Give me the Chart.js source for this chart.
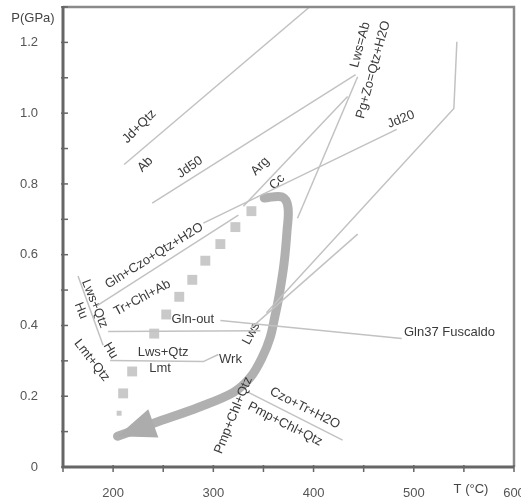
<!DOCTYPE html>
<html><head><meta charset="utf-8">
<script src="https://cdn.jsdelivr.net/npm/chart.js@4"></script>
<style>html,body{margin:0;padding:0;background:#fff}#wrap{width:521px;height:497px;position:relative}</style>
</head><body><div id="wrap"><canvas id="c"></canvas></div>
<script>
// ---- axis ranges / ticks ----
const tempMin = 150, tempMax = 600;
const presMin = 0, presMax = 1.3;
const xTickLabels = ['200', '300', '400', '500', '600'];
const yTickLabels = ['0', '0.2', '0.4', '0.6', '0.8', '1.0', '1.2'];

// ---- reaction lines (T in °C, P in GPa) ----
const jd100T = [211, 396],          jd100P = [0.855, 1.30];
const jd50T = [239, 442],           jd50P = [0.746, 1.109];
const jd20T = [290, 483],           jd20P = [0.689, 0.954];
const glnT = [184, 325],            glnP = [0.456, 0.712];
const argCcT = [330, 434],          argCcP = [0.737, 1.047];
const pgZoT = [384, 444],           pgZoP = [0.703, 1.103];
const lwsOutT = [353, 540, 543],    lwsOutP = [0.436, 1.013, 1.202];
const lws2T = [338, 444],           lws2P = [0.394, 0.658];
const glnOutT = [195, 347],         glnOutP = [0.383, 0.385];
const gln37T = [307, 488],          gln37P = [0.414, 0.363];
const lmtT = [197, 290, 305],       lmtP = [0.301, 0.298, 0.318];
const huT = [165, 190],             huP = [0.540, 0.344];
const czoTrT = [335, 429],          czoTrP = [0.211, 0.076];

// ---- prograde dotted path (squares) ----
const pathT = [338, 322, 307, 292, 279, 266, 253, 241, 219, 210, 206];
const pathP = [0.723, 0.678, 0.630, 0.583, 0.529, 0.481, 0.431, 0.377, 0.270, 0.208, 0.152];

// ---- retrograde arrow path ----
const arrowT = [350.8, 368.6, 374.5, 373.5, 370.5, 365.6, 361.6, 356.7, 348.8, 336.9, 320.1, 285.5, 245.9, 221.2, 204.4];
const arrowP = [0.760, 0.763, 0.734, 0.667, 0.574, 0.484, 0.428, 0.366, 0.310, 0.253, 0.211, 0.169, 0.129, 0.104, 0.087];

// ---- text labels: text, T, P, rotation(deg), align ----
const labelTexts = ['Jd+Qtz','Ab','Jd50','Arg','Cc','Jd20','Lws=Ab','Pg+Zo=Qtz+H2O','Gln+Czo+Qtz+H2O','Tr+Chl+Ab',
  'Lws+Qtz','Hu','Lmt+Qtz','Hu','Gln-out','Gln37 Fuscaldo','Lws+Qtz','Lmt','Wrk','Lws','Pmp+Chl+Qtz','Czo+Tr+H2O','Pmp+Chl+Qtz'];
const labelT = [226.2,232.1,276.6,346.8,363.6,487.2,446.7,459.6,241,229.1,181.6,167.8,178.7,197.5,279.6,490.2,249.9,246.9,317.1,337.9,320.1,391.3,371.5];
const labelP = [0.962,0.855,0.847,0.850,0.805,0.982,1.193,1.123,0.597,0.478,0.461,0.442,0.301,0.329,0.416,0.380,0.324,0.279,0.304,0.377,0.146,0.166,0.121];
const labelRot = [-45,-45,-35,-46,-46,-22,-75,-75,-32,-28,68,68,52,60,0,0,0,0,0,-62,-68,27,27];
const labelAlign = ['center','center','center','center','center','center','center','center','center','center',
  'center','center','center','center','center','left','center','center','center','center','center','center','center'];

const zip = (t, p) => t.map((v, i) => ({x: v, y: p[i]}));
const lineSets = [
  [jd100T, jd100P], [jd50T, jd50P], [jd20T, jd20P], [glnT, glnP], [argCcT, argCcP], [pgZoT, pgZoP],
  [lwsOutT, lwsOutP], [lws2T, lws2P], [glnOutT, glnOutP], [gln37T, gln37P], [lmtT, lmtP], [huT, huP], [czoTrT, czoTrP]
];
const datasets = lineSets.map(([t, p]) => ({
  data: zip(t, p), showLine: true, borderColor: '#c2c2c2', borderWidth: 1.5,
  pointRadius: 0, fill: false, tension: 0
}));
const LAST_LINE = datasets.length - 1;
datasets.push({
  data: zip(pathT, pathP), showLine: false, pointStyle: 'rect',
  pointRadius: pathT.map((_, i) => i === pathT.length - 1 ? 3.5 : 7),
  backgroundColor: 'rgba(188,188,188,0.8)', borderWidth: 0
});
const ARROW = datasets.length;
datasets.push({
  data: zip(arrowT, arrowP), showLine: true, borderColor: 'rgba(172,172,172,0.95)', borderWidth: 9,
  pointRadius: 0, tension: 0.35, borderCapStyle: 'round', borderJoinStyle: 'round'
});

const FONT = '"Liberation Sans", Arial, sans-serif';
const TEXT = '#3a3a3a';

const decor = {
  id: 'decor',
  afterDatasetDraw(chart, args) {
    if (args.index !== LAST_LINE) return;
    const ctx = chart.ctx, xs = chart.scales.x, ys = chart.scales.y;
    ctx.save();
    ctx.fillStyle = TEXT;
    ctx.font = '13px ' + FONT;
    ctx.textBaseline = 'middle';
    labelTexts.forEach((txt, i) => {
      const px = xs.getPixelForValue(labelT[i]), py = ys.getPixelForValue(labelP[i]);
      ctx.save();
      ctx.translate(px, py);
      ctx.rotate(labelRot[i] * Math.PI / 180);
      ctx.textAlign = labelAlign[i];
      ctx.fillText(txt, 0, 0);
      ctx.restore();
    });
    ctx.restore();
  },
  afterDatasetsDraw(chart) {
    const meta = chart.getDatasetMeta(ARROW);
    const pts = meta.data, n = pts.length;
    const tip = pts[n - 1], back = pts[n - 3];
    const ang = Math.atan2(tip.y - back.y, tip.x - back.x);
    const L = 38, W = 15;
    const bx = tip.x - L * Math.cos(ang), by = tip.y - L * Math.sin(ang);
    const ctx = chart.ctx;
    ctx.save();
    ctx.fillStyle = 'rgba(172,172,172,1)';
    ctx.beginPath();
    ctx.moveTo(tip.x, tip.y);
    ctx.lineTo(bx + W * Math.sin(ang), by - W * Math.cos(ang));
    ctx.lineTo(bx - W * Math.sin(ang), by + W * Math.cos(ang));
    ctx.closePath();
    ctx.fill();
    ctx.restore();
  },
  afterDraw(chart) {
    const ctx = chart.ctx, a = chart.chartArea, xs = chart.scales.x, ys = chart.scales.y;
    ctx.save();
    // frame
    ctx.strokeStyle = '#8a8a8a'; ctx.lineWidth = 2.5;
    ctx.beginPath(); ctx.moveTo(a.left, a.top); ctx.lineTo(a.right, a.top); ctx.lineTo(a.right, a.bottom); ctx.stroke();
    ctx.strokeStyle = '#666'; ctx.lineWidth = 3;
    ctx.beginPath(); ctx.moveTo(a.left, a.top - 1); ctx.lineTo(a.left, a.bottom); ctx.lineTo(a.right, a.bottom); ctx.stroke();
    // ticks
    ctx.lineWidth = 1.5; ctx.strokeStyle = '#666';
    ys.ticks.forEach(t => {
      const y = ys.getPixelForValue(t.value);
      ctx.beginPath(); ctx.moveTo(a.left - 2, y); ctx.lineTo(a.left + 5, y); ctx.stroke();
    });
    xs.ticks.forEach(t => {
      const x = xs.getPixelForValue(t.value);
      ctx.beginPath(); ctx.moveTo(x, a.bottom - 2); ctx.lineTo(x, a.bottom + 5); ctx.stroke();
    });
    // axis titles
    ctx.fillStyle = '#444'; ctx.font = '13px ' + FONT; ctx.textBaseline = 'middle';
    ctx.textAlign = 'center';
    ctx.fillText('P(GPa)', 33, 18);
    ctx.fillText('T (\u00B0C)', 471, 489);
    ctx.restore();
  }
};

new Chart(document.getElementById('c'), {
  type: 'scatter',
  data: { datasets },
  options: {
    responsive: true, maintainAspectRatio: false, animation: false,
    layout: { padding: { top: 5, right: 3, left: 0, bottom: 0 } },
    plugins: { legend: { display: false }, tooltip: { enabled: false } },
    scales: {
      x: {
        type: 'linear', min: tempMin, max: tempMax,
        grid: { display: false }, border: { display: false },
        ticks: {
          stepSize: 50, color: '#555', padding: 11, maxRotation: 0, autoSkip: false,
          font: { family: FONT, size: 13 },
          callback: v => xTickLabels.includes(String(v)) ? String(v) : ''
        },
        afterFit: s => { s.height = 30; s.paddingLeft = 0; s.paddingRight = 0; }
      },
      y: {
        type: 'linear', min: presMin, max: presMax,
        grid: { display: false }, border: { display: false },
        ticks: {
          stepSize: 0.1, color: '#555', padding: 17, autoSkip: false,
          font: { family: FONT, size: 13 },
          callback: v => { const k = Math.round(v * 10); const s = k === 0 ? '0' : (k / 10).toFixed(1); return (k % 2 === 0 && yTickLabels.includes(s)) ? s : ''; }
        },
        afterFit: s => { s.width = 63; s.paddingTop = 0; s.paddingBottom = 0; }
      }
    }
  },
  plugins: [decor]
});
</script></body></html>
